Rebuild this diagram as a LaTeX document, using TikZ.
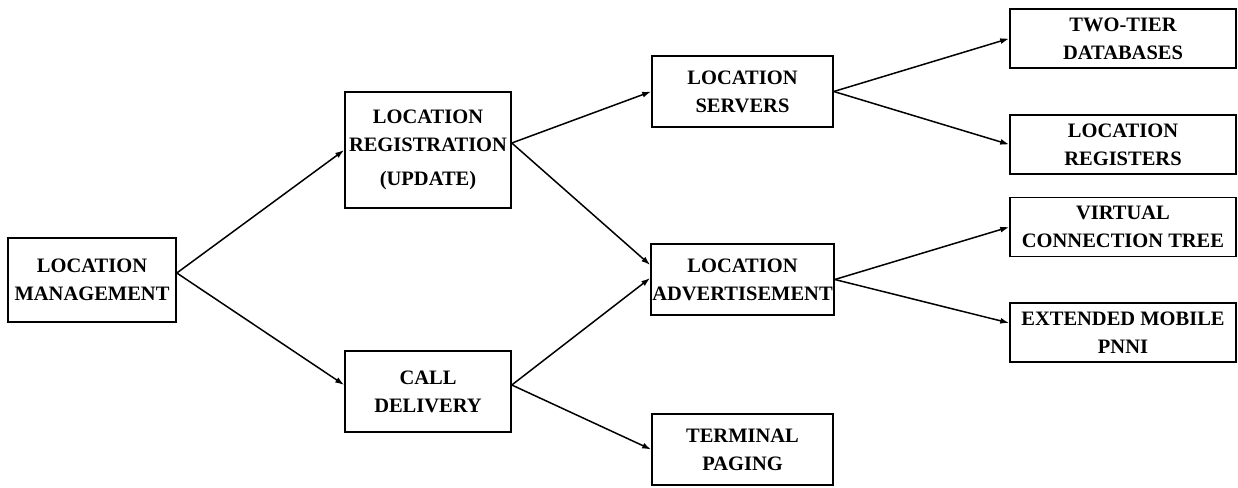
\documentclass[tikz,border=0pt]{standalone}
\usepackage{fontspec}
\setmainfont{Liberation Serif}
\usetikzlibrary{arrows.meta}
\begin{document}
\begin{tikzpicture}[x=1pt,y=-1pt,
  box/.style={draw,line width=1.6pt,inner sep=0pt,align=center,
    font=\bfseries\fontsize{20.5}{28}\selectfont},
  conn/.style={line width=1.5pt,-{Latex[length=9pt,width=6pt]}}]
\useasboundingbox (0,0) rectangle (1238,487);
\node[box,minimum width=168pt,minimum height=84pt] (lm) at (92,280) {LOCATION\\MANAGEMENT};
\node[box,minimum width=166pt,minimum height=116pt] (lr) at (428,150) {LOCATION\\REGISTRATION\\[6pt](UPDATE)};
\node[box,minimum width=166pt,minimum height=81pt] (cd) at (428,391.5) {CALL\\DELIVERY};
\node[box,minimum width=181pt,minimum height=71pt] (ls) at (742.5,91.5) {LOCATION\\SERVERS};
\node[box,minimum width=183pt,minimum height=71pt] (la) at (742.5,279.5) {LOCATION\\ADVERTISEMENT};
\node[box,minimum width=181pt,minimum height=71pt] (tp) at (742.5,449.5) {TERMINAL\\PAGING};
\node[box,minimum width=226pt,minimum height=59pt] (tt) at (1123,38.5) {TWO-TIER\\DATABASES};
\node[box,minimum width=226pt,minimum height=59pt] (lreg) at (1123,144.5) {LOCATION\\REGISTERS};
\node[box,minimum width=226pt,minimum height=59pt] (vct) at (1123,227) {VIRTUAL\\CONNECTION TREE};
\node[box,minimum width=226pt,minimum height=59pt] (emp) at (1123,332.5) {EXTENDED MOBILE\\PNNI};
\draw[conn] ([yshift=7pt]lm.east) -- (lr.west);
\draw[conn] ([yshift=7pt]lm.east) -- ([yshift=6.5pt]cd.west);
\draw[conn] ([yshift=7pt]lr.east) -- (ls.west);
\draw[conn] ([yshift=7pt]lr.east) -- ([yshift=14.5pt]la.west);
\draw[conn] ([yshift=6.5pt]cd.east) -- ([yshift=1.5pt]la.west);
\draw[conn] ([yshift=6.5pt]cd.east) -- (tp.west);
\draw[conn] (ls.east) -- (tt.west);
\draw[conn] (ls.east) -- (lreg.west);
\draw[conn] (la.east) -- (vct.west);
\draw[conn] (la.east) -- ([yshift=9.5pt]emp.west);
\end{tikzpicture}
\end{document}
